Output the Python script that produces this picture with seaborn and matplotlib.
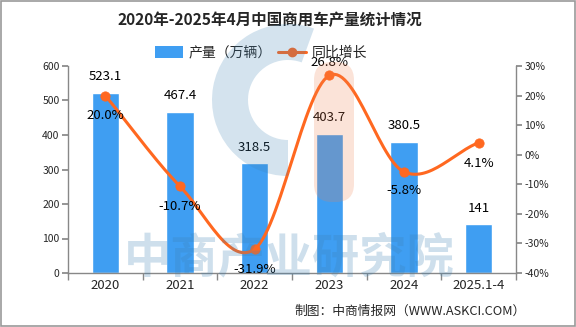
import numpy as np
import pandas as pd
import matplotlib
matplotlib.use("Agg")
import matplotlib.pyplot as plt
import matplotlib.transforms as mtransforms
import seaborn as sns
from matplotlib.patches import Patch, Rectangle, Wedge, FancyBboxPatch
from matplotlib.lines import Line2D

categories = ["2020", "2021", "2022", "2023", "2024", "2025.1-4"]
production = [523.1, 467.4, 318.5, 403.7, 380.5, 141]
production_labels = ["523.1", "467.4", "318.5", "403.7", "380.5", "141"]
growth = [20.0, -10.7, -31.9, 26.8, -5.8, 4.1]
growth_labels = ["20.0%", "-10.7%", "-31.9%", "26.8%", "-5.8%", "4.1%"]

sns.set_theme(style="white")
plt.rcParams['font.family'] = ['Noto Sans CJK SC', 'DejaVu Sans']

BAR = "#3f9ef2"
LINE = "#ff6820"
W, H = 576, 327

fig = plt.figure(figsize=(W/100, H/100), dpi=100)
ax = fig.add_axes([68/W, 1-273/H, 448/W, 207/H])
ax2 = ax.twinx()
# pixel transform (origin top-left)
px = mtransforms.Affine2D().scale(1/W, -1/H).translate(0, 1) + fig.transFigure

df = pd.DataFrame({"cat": categories, "prod": production, "growth": growth})

sns.barplot(data=df, x="cat", y="prod", ax=ax, color=BAR, width=0.37, saturation=1, zorder=2)
ax.set_xlim(-0.5, 5.5)
ax.set_ylim(0, 600)
ax.set_yticks(range(0, 601, 100))
ax.set_xlabel("")
ax.set_ylabel("")

# smooth line through growth points (Catmull-Rom rendering)
x = np.arange(len(growth), dtype=float)
y = np.array(growth, dtype=float)
pxs = np.concatenate([[2*x[0]-x[1]], x, [2*x[-1]-x[-2]]])
pys = np.concatenate([[2*y[0]-y[1]], y, [2*y[-1]-y[-2]]])
xs, ys = [], []
t = np.linspace(0, 1, 30)
def cr(a, b, c, d):
    return 0.5*((2*b) + (-a+c)*t + (2*a-5*b+4*c-d)*t**2 + (-a+3*b-3*c+d)*t**3)
for i in range(1, len(pxs)-2):
    xs.append(cr(*pxs[i-1:i+3])); ys.append(cr(*pys[i-1:i+3]))
xs = np.concatenate(xs); ys = np.concatenate(ys)
ax2.plot(xs, ys, color=LINE, lw=2.2, zorder=3)
sns.scatterplot(x=x, y=y, ax=ax2, color=LINE, s=45, edgecolor=LINE, zorder=4, legend=False)
ax2.set_ylim(-40, 30)
ax2.set_yticks(range(-40, 31, 10))
ax2.set_yticklabels([f"{v}%" for v in range(-40, 31, 10)])

for a in (ax, ax2):
    for sp in a.spines.values():
        sp.set_color("#888888")
        sp.set_linewidth(1)
    a.spines["top"].set_visible(False)
ax.spines["right"].set_visible(False)
ax2.spines["left"].set_visible(False)
ax2.spines["bottom"].set_visible(False)

ax.tick_params(axis="y", direction="out", length=4, color="#888888", labelsize=7.5, pad=2, left=True)
ax2.tick_params(axis="y", direction="out", length=4, color="#888888", labelsize=7.5, pad=2, right=True)
ax.set_xticks(np.arange(-0.5, 6, 1), minor=True)
ax.tick_params(axis="x", which="minor", length=5, color="#888888", bottom=True)
ax.tick_params(axis="x", which="major", length=0, labelsize=9.5, pad=4)

# bar labels
for i, (v, lab) in enumerate(zip(production, production_labels)):
    ax.annotate(lab, (i, v), xytext=(0, 16), textcoords="offset pixels",
                ha="center", va="center", fontsize=9.5, color="black", zorder=6)

# growth labels
g_offsets = [-20, -20, -20, 13, -19, -21]
for i, (v, lab) in enumerate(zip(growth, growth_labels)):
    ax2.annotate(lab, (i, v), xytext=(0, g_offsets[i]), textcoords="offset pixels",
                 ha="center", va="center", fontsize=9.5, color="black", zorder=6)

fig.text(270/W, 1-20/H, "2020年-2025年4月中国商用车产量统计情况", ha="center", va="center",
         fontsize=11.2, fontweight="bold")

handles = [Patch(facecolor=BAR, edgecolor="none"),
           Line2D([0], [0], color=LINE, lw=2.2, marker="o", markersize=6)]
fig.legend(handles, ["产量（万辆）", "同比增长"], loc="center", bbox_to_anchor=(261/W, 1-53/H),
           ncol=2, frameon=False, fontsize=10, handlelength=2.0, handleheight=0.9,
           columnspacing=0.5, handletextpad=0.4)

fig.text(526/W, 1-311/H, "制图：中商情报网（WWW.ASKCI.COM）", ha="right", va="center", fontsize=9.2)

# watermark (drawn over plot, translucent)
wm_blue = "#3c82b4"
wm_orange = "#f08050"
fig.add_artist(Wedge((288, 100), 76, 90, 290, width=36, transform=px,
                     facecolor=wm_blue, edgecolor="none", alpha=0.22, zorder=10))
fig.add_artist(FancyBboxPatch((314, 62), 40, 140, boxstyle="round,pad=0,rounding_size=18",
                              transform=px, facecolor=wm_orange, edgecolor="none",
                              alpha=0.22, zorder=10))
fig.text(289/W, 1-258/H, "中商产业研究院", fontsize=34, color=wm_blue, alpha=0.25,
         ha="center", va="center", fontweight="bold", zorder=10)

fig.add_artist(Rectangle((0.5, 0.5), W-1.5, H-1.5, transform=px, fill=False,
                         edgecolor="#999999", lw=1.2, zorder=11))

fig.savefig("out.png", dpi=100)
